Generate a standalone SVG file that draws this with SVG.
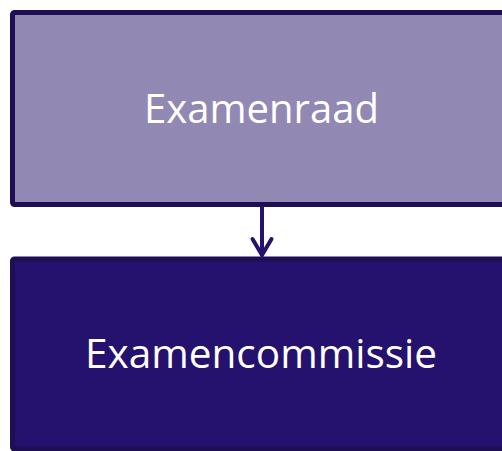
<svg xmlns="http://www.w3.org/2000/svg" width="502" height="451" viewBox="0 0 502 451">
<style>
.box{stroke:#1E0F55;stroke-width:5}
.lbl{font-family:"Open Sans","Liberation Sans",sans-serif;fill:#FFFFFF;text-anchor:middle}
.conn{stroke:#24126E;stroke-width:4;fill:none;stroke-linecap:round;stroke-linejoin:miter}
</style>
<rect width="502" height="451" fill="#FFFFFF"/>
<g id="examenraad">
<rect class="box" x="12.5" y="12.5" width="500" height="192" rx="2" fill="#9189B3"/>
<text class="lbl" x="261.5" y="123" font-size="41" textLength="235" lengthAdjust="spacingAndGlyphs">Examenraad</text>
</g>
<g id="examencommissie">
<rect class="box" x="12.5" y="259" width="500" height="190" rx="2" fill="#24126E"/>
<text class="lbl" x="261" y="368" font-size="41" textLength="352" lengthAdjust="spacingAndGlyphs">Examencommissie</text>
</g>
<g id="connectors">
<line class="conn" x1="262" y1="207" x2="262" y2="254"/>
<polyline class="conn" points="252.5,239 262,255 271.5,239"/>
</g>
</svg>
